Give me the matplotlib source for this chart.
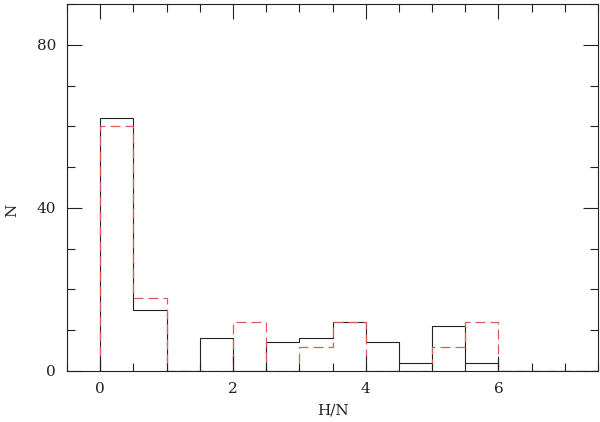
import matplotlib
matplotlib.use("Agg")
import matplotlib.pyplot as plt
import numpy as np
from matplotlib.ticker import MultipleLocator, FixedLocator

bin_edges = np.arange(0, 7.51, 0.5)
counts_black = [62, 15, 0, 8, 0, 7, 8, 12, 7, 2, 11, 2, 0, 0, 0]
counts_red = [60, 18, 0, 0, 12, 0, 6, 12, 0, 0, 6, 12, 0, 0, 0]
x_ticks = [0, 2, 4, 6]
y_ticks = [0, 40, 80]

plt.rcParams['font.family'] = ['DejaVu Serif']
fig = plt.figure(figsize=(6.0, 4.22), dpi=100)
ax = fig.add_axes([67/600, 1-371/422, (598-67)/600, (371-4)/422])

ax.stairs(counts_black, bin_edges, baseline=0, color='#222222', lw=0.8)
ax.stairs(counts_red, bin_edges, baseline=0, color='#e05a5a', lw=0.9,
          linestyle=(0, (8, 4)))

ax.set_xlim(-0.5, 7.5)
ax.set_ylim(0, 90)
ax.xaxis.set_major_locator(FixedLocator(x_ticks))
ax.yaxis.set_major_locator(FixedLocator(y_ticks))
ax.xaxis.set_minor_locator(MultipleLocator(0.5))
ax.yaxis.set_minor_locator(MultipleLocator(10))
ax.tick_params(which='both', direction='in', top=True, right=True, width=0.8, colors='#222222', labelcolor='#222222')
ax.tick_params(which='major', length=11, labelsize=11, pad=8)
ax.tick_params(which='minor', length=6)
for s in ax.spines.values():
    s.set_linewidth(0.8)
    s.set_color('#222222')

ax.set_xlabel('H/N', fontsize=11, labelpad=5, color='#222222')
fig.text(12/600, 1-210/422, 'N', rotation=90, ha='center', va='center', fontsize=11, color='#222222')

fig.savefig('out.png', dpi=100)
